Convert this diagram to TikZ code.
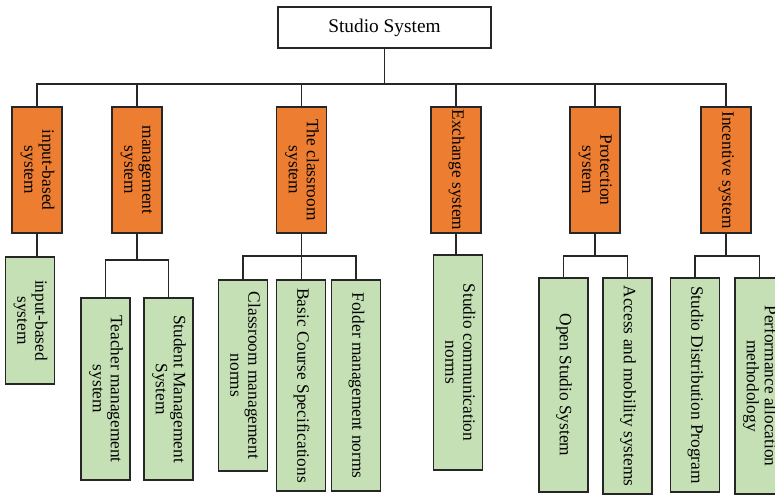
\documentclass[tikz,border=0pt]{standalone}
\usepackage{fontspec}
\setmainfont{Liberation Serif}
\usetikzlibrary{positioning}
\definecolor{boxorange}{HTML}{ED7D31}
\definecolor{boxgreen}{HTML}{C5E0B4}
\newcommand{\vlabel}[1]{\rotatebox{-90}{\begin{tabular}{@{}c@{}}#1\end{tabular}}}

\begin{document}
\begin{tikzpicture}[x=0.75pt, y=-0.75pt,
  link/.style={draw=black!85, line width=1.3pt},
  rootbox/.style={draw=black!85, line width=1.3pt, fill=white, inner sep=0pt,
    minimum width=159.75pt, minimum height=30.75pt, font=\fontsize{14.5}{16}\selectfont},
  catbox/.style={draw=black!85, line width=1.3pt, fill=boxorange, inner sep=0pt,
    minimum width=37.5pt, minimum height=94.5pt, font=\fontsize{13}{13.5}\selectfont},
  subbox/.style={draw=black!85, line width=1.3pt, fill=boxgreen, inner sep=0pt,
    minimum width=36.75pt, font=\fontsize{13}{13.5}\selectfont}]
  \useasboundingbox (0,0) rectangle (775,497);

  % top level
  \node[rootbox] (root) at (384.5,27.5) {Studio System};

  % second level
  \node[catbox] (inp) at (37,170)    {\vlabel{input-based\\system}};
  \node[catbox] (man) at (137,170)   {\vlabel{management\\system}};
  \node[catbox] (cls) at (301.5,170) {\vlabel{The classroom\\system}};
  \node[catbox] (exc) at (456,170)   {\vlabel{Exchange system}};
  \node[catbox] (pro) at (595,170)   {\vlabel{Protection\\system}};
  \node[catbox] (inc) at (726,170)   {\vlabel{Incentive system}};

  % third level
  \node[subbox, minimum height=95.25pt]  (inp1) at (30,320.5)  {\vlabel{input-based\\system}};
  \node[subbox, minimum height=136.5pt]  (man1) at (105.5,389) {\vlabel{Teacher management\\system}};
  \node[subbox, minimum height=136.5pt]  (man2) at (168.5,389) {\vlabel{Student Management\\System}};
  \node[subbox, minimum height=143.25pt] (cls1) at (243,375.5) {\vlabel{Classroom management\\norms}};
  \node[subbox, minimum height=158.25pt] (cls2) at (301,385.5) {\vlabel{Basic Course Specifications}};
  \node[subbox, minimum height=158.25pt] (cls3) at (356,385.5) {\vlabel{Folder management norms}};
  \node[subbox, minimum height=161.25pt] (exc1) at (458,362.5) {\vlabel{Studio communication\\norms}};
  \node[subbox, minimum height=160.5pt]  (pro1) at (563.5,385) {\vlabel{Open Studio System}};
  \node[subbox, minimum height=162pt]    (pro2) at (627.5,386) {\vlabel{Access and mobility systems}};
  \node[subbox, minimum height=160.5pt]  (inc1) at (695,385)   {\vlabel{Studio Distribution Program}};
  \node[subbox, minimum height=162pt]    (inc2) at (759.5,386) {\vlabel{Performance allocation\\methodology}};

  % connectors
  \draw[link] (root.south) -- (root.south |- 0,84);
  \draw[link] (inp.north) -- (inp.north |- 0,84) -| (inc.north);
  \foreach \c in {man,cls,exc,pro}
    \draw[link] (\c.north) -- (\c.north |- 0,84);

  \draw[link] (inp.south) -- (inp.south |- inp1.north);
  \draw[link] (man.south) -- (man.south |- 0,260);
  \draw[link] (man1.north) |- (man.south |- 0,260) -| (man2.north);
  \draw[link] (cls.south) -- (cls.south |- cls2.north);
  \draw[link] (cls1.north) |- (cls.south |- 0,256) -| (cls3.north);
  \draw[link] (exc.south) -- (exc.south |- exc1.north);
  \draw[link] (pro.south) -- (pro.south |- 0,256);
  \draw[link] (pro1.north) |- (pro.south |- 0,256) -| (pro2.north);
  \draw[link] (inc.south) -- (inc.south |- 0,256);
  \draw[link] (inc1.north) |- (inc.south |- 0,256) -| (inc2.north);
\end{tikzpicture}
\end{document}
